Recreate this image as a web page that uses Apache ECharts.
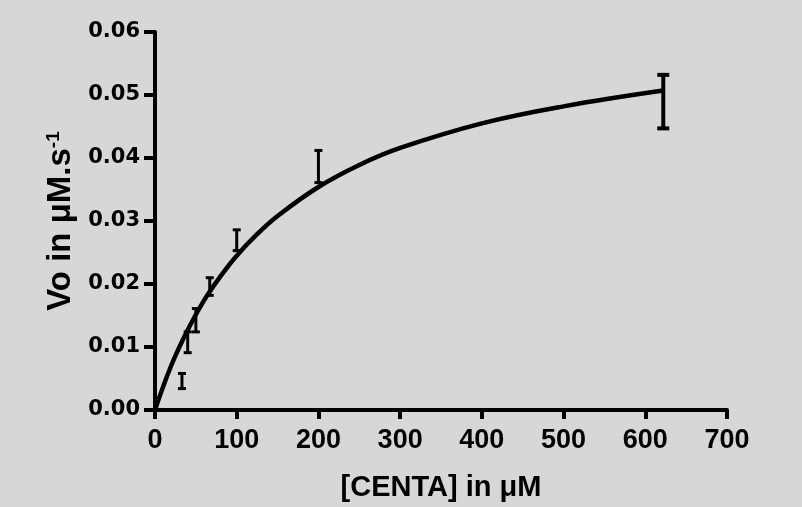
<!DOCTYPE html>
<html><head><meta charset="utf-8">
<script src="https://cdn.jsdelivr.net/npm/echarts@6/dist/echarts.min.js"></script>
<style>html,body{margin:0;padding:0;background:#d7d7d7;}#c{width:802px;height:507px;}</style>
</head><body><div id="c"></div>
<script>
// measured points (x in µM, mean, low, high)
const concX   = [33, 40, 50, 67, 100, 200, 622];
const vMean   = [0.0046, 0.0107, 0.0143, 0.0196, 0.0270, 0.0386, 0.0490];
const vLow    = [0.0034, 0.0091, 0.0124, 0.0182, 0.0253, 0.0361, 0.0447];
const vHigh   = [0.0058, 0.0124, 0.0161, 0.0210, 0.0286, 0.0412, 0.0532];
// fitted curve
const fitX = [0, 20, 40, 60, 80, 100, 125, 150, 200, 250, 300, 400, 500, 622];
const fitY = [0, 0.0071, 0.0127, 0.0174, 0.0212, 0.0245, 0.0279, 0.0308, 0.0354, 0.0389, 0.0416, 0.0455, 0.0482, 0.0507];
const xTicks = [0, 100, 200, 300, 400, 500, 600, 700];
const yTicks = [0, 0.01, 0.02, 0.03, 0.04, 0.05, 0.06];

const font = 'Arial, "Liberation Sans", sans-serif';
const yFont = '"DejaVu Sans", Arial, sans-serif';
const chart = echarts.init(document.getElementById('c'));
const errData = concX.map((x, i) => [x, vMean[i], vLow[i], vHigh[i]]);
chart.setOption({
  backgroundColor: '#d7d7d7',
  animation: false,
  grid: {left: 155, right: 75, top: 32, bottom: 96},
  xAxis: {
    type: 'value', min: xTicks[0], max: xTicks[xTicks.length-1], interval: 100,
    name: '[CENTA] in μM', nameLocation: 'middle', nameGap: 63,
    nameTextStyle: {fontFamily: font, fontWeight: 'bold', fontSize: 29, color: '#000'},
    axisLine: {onZero: false, lineStyle: {color: '#000', width: 4}},
    axisTick: {length: 9, lineStyle: {color: '#000', width: 4}},
    axisLabel: {fontFamily: font, fontWeight: 'bold', fontSize: 27, color: '#000', margin: 17},
    splitLine: {show: false}
  },
  yAxis: {
    type: 'value', min: yTicks[0], max: yTicks[yTicks.length-1], interval: 0.01,
    name: '{n|Vo in μM.s}{s|-1}', nameLocation: 'middle', nameGap: 74, nameRotate: 90,
    nameTextStyle: {rich: {
      n: {fontFamily: font, fontWeight: 'bold', fontSize: 33, color: '#000'},
      s: {fontFamily: font, fontWeight: 'bold', fontSize: 19, color: '#000', verticalAlign: 'top', padding: [0,0,15,0]}
    }},
    axisLine: {show: true, lineStyle: {color: '#000', width: 4}},
    axisTick: {show: true, length: 11, lineStyle: {color: '#000', width: 4}},
    axisLabel: {fontFamily: yFont, fontWeight: 'bold', fontSize: 21, color: '#000', margin: 15,
      formatter: v => v.toFixed(2)},
    splitLine: {show: false}
  },
  series: [
    {
      type: 'line', data: fitX.map((x, i) => [x, fitY[i]]), smooth: 0.4, showSymbol: false,
      lineStyle: {color: '#000', width: 4.5}, z: 3
    },
    {
      type: 'custom', data: errData, z: 4,
      renderItem: function (params, api) {
        const x = api.value(0);
        const lo = api.coord([x, api.value(2)]);
        const hi = api.coord([x, api.value(3)]);
        const w = x > 500 ? 6 : 4;
        const lw = x > 500 ? 4 : 3;
        const st = {stroke: '#000', lineWidth: lw};
        return {type: 'group', children: [
          {type: 'line', shape: {x1: lo[0], y1: lo[1], x2: hi[0], y2: hi[1]}, style: st},
          {type: 'line', shape: {x1: lo[0]-w, y1: lo[1], x2: lo[0]+w, y2: lo[1]}, style: st},
          {type: 'line', shape: {x1: hi[0]-w, y1: hi[1], x2: hi[0]+w, y2: hi[1]}, style: st}
        ]};
      }
    }
  ]
});
</script></body></html>
